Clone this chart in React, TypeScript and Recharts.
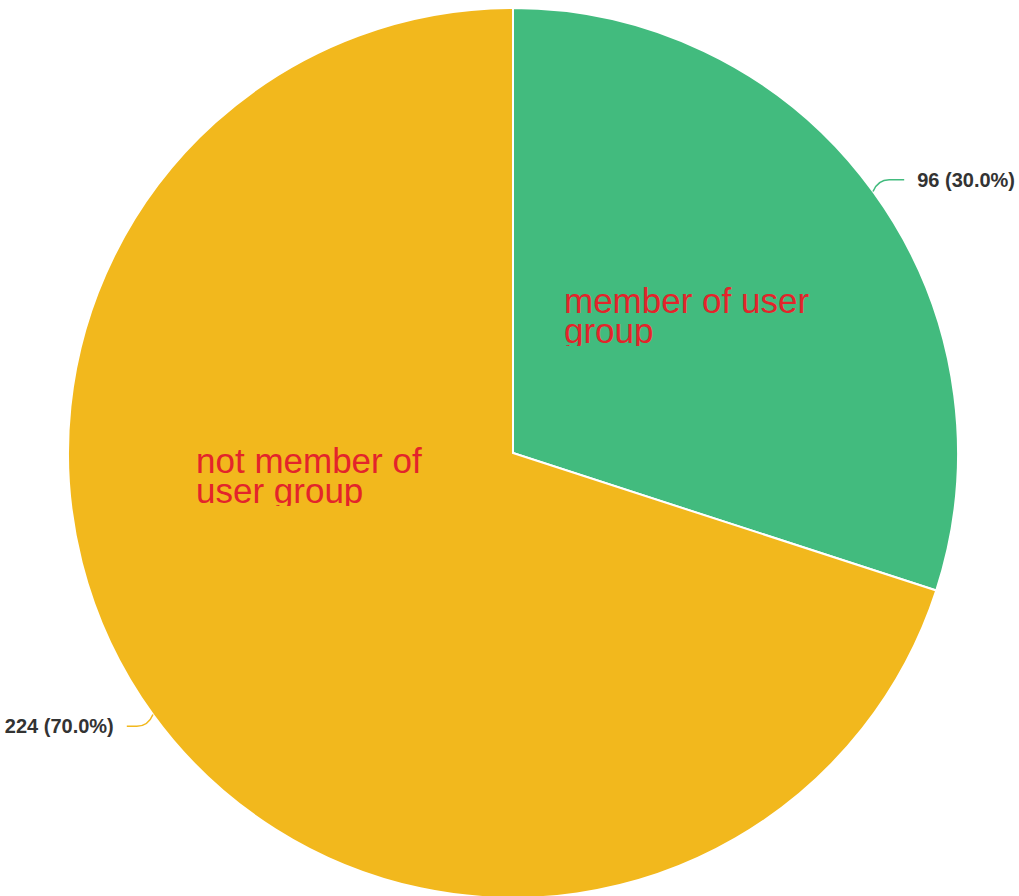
import { PieChart, Pie, Cell } from 'recharts'

// Slice data
const groupNames = ['member of user group', 'not member of user group']
const groupCounts = [96, 224]
const groupColors = ['#42bb7e', '#f2b81d']
// Wrapped inner label lines
const innerLines = [
  ['member of user', 'group'],
  ['not member of', 'user group'],
]
// Inner label anchor (left, first baseline)
const innerPos = [
  { x: 564, y: 313 },
  { x: 196, y: 473 },
]

const data = groupNames.map((name, i) => ({ name, value: groupCounts[i] }))
const total = groupCounts.reduce((a, b) => a + b, 0)

const RAD = Math.PI / 180
const font = "'Liberation Sans', Arial, sans-serif"

const renderLabel = (props: any) => {
  const { cx, cy, midAngle, outerRadius, value, index } = props
  const cos = Math.cos(-midAngle * RAD)
  const sin = Math.sin(-midAngle * RAD)
  const dir = cos >= 0 ? 1 : -1
  const sx = cx + outerRadius * cos
  const sy = cy + outerRadius * sin
  const mx = cx + (outerRadius + 20) * cos
  const my = cy + (outerRadius + 20) * sin
  const ex = mx + dir * (dir > 0 ? 15 : 10)
  const tx = ex + dir * 13
  const pct = ((value / total) * 100).toFixed(1)
  const pos = innerPos[index]
  const lines = innerLines[index]
  return (
    <g>
      <path
        d={`M ${sx} ${sy} Q ${sx + (mx - sx) * 0.3} ${my} ${mx} ${my} L ${ex} ${my}`}
        stroke={groupColors[index]}
        strokeWidth={1.5}
        fill="none"
      />
      <text
        x={tx}
        y={my}
        textAnchor={dir > 0 ? 'start' : 'end'}
        dominantBaseline="central"
        fill="#333"
        fontSize={20}
        fontWeight="bold"
        fontFamily={font}
      >
        {`${value} (${pct}%)`}
      </text>
      <clipPath id={`clip-${index}`}>
        <rect x={pos.x - 5} y={pos.y - 30} width={320} height={63} />
      </clipPath>
      <text clipPath={`url(#clip-${index})`} fill="#e3242b" fontSize={35} fontFamily={font}>
        {lines.map((line, j) => (
          <tspan key={j} x={pos.x} y={pos.y + j * 30}>
            {line}
          </tspan>
        ))}
      </text>
    </g>
  )
}

export default function App() {
  return (
    <div style={{ position: 'absolute', left: 0, top: 0, width: 1019, height: 896, background: '#fff' }}>
      <PieChart width={1019} height={896} margin={{ top: 0, right: 0, bottom: 0, left: 0 }}>
        <Pie
          data={data}
          dataKey="value"
          nameKey="name"
          cx={513}
          cy={453}
          outerRadius={445}
          startAngle={90}
          endAngle={-270}
          stroke="#fff"
          strokeWidth={2}
          label={renderLabel}
          labelLine={false}
          isAnimationActive={false}
        >
          {data.map((entry, i) => (
            <Cell key={entry.name} fill={groupColors[i]} />
          ))}
        </Pie>
      </PieChart>
    </div>
  )
}
